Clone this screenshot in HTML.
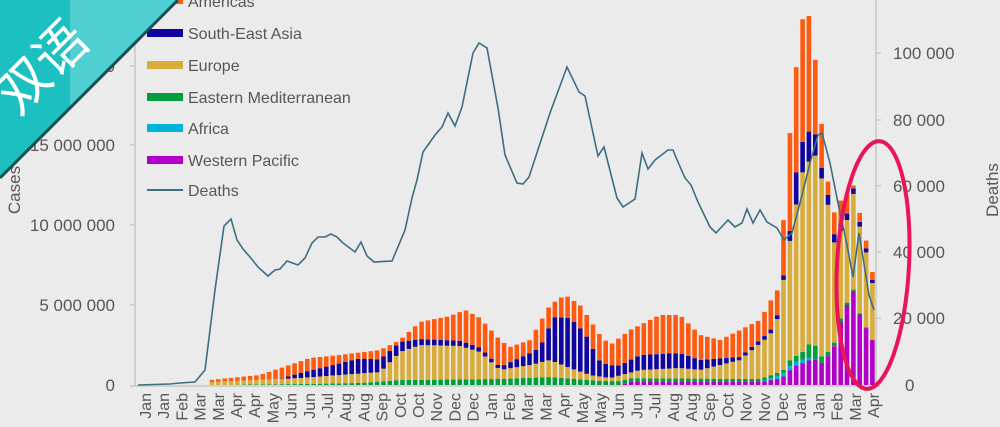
<!DOCTYPE html>
<html><head><meta charset="utf-8"><style>
html,body{margin:0;padding:0;background:#ebebeb;}
svg{display:block;font-family:"Liberation Sans","Noto Sans CJK SC",sans-serif;}
</style></head><body>
<svg id="s" width="1000" height="427" viewBox="0 0 1000 427" xmlns="http://www.w3.org/2000/svg">
<rect width="1000" height="427" fill="#ebebeb"/>
<g id="bars"></g>
<g id="axes" stroke="#c8c8c8" stroke-width="1.5">
<line x1="135" y1="0" x2="135" y2="386"/>
<line x1="876" y1="0" x2="876" y2="386"/>
<line x1="130" y1="386" x2="880" y2="386"/>
<line x1="130" y1="305" x2="135" y2="305"/><line x1="130" y1="225" x2="135" y2="225"/>
<line x1="130" y1="145" x2="135" y2="145"/><line x1="130" y1="66" x2="135" y2="66"/>
<line x1="876" y1="318" x2="881" y2="318"/><line x1="876" y1="252" x2="881" y2="252"/>
<line x1="876" y1="186" x2="881" y2="186"/><line x1="876" y1="120" x2="881" y2="120"/>
<line x1="876" y1="53" x2="881" y2="53"/>
</g>
<g fill="#5b5555" font-size="17" text-anchor="end">
<text x="115" y="391">0</text>
<text x="115" y="311">5 000 000</text>
<text x="115" y="231">10 000 000</text>
<text x="115" y="151">15 000 000</text>
<text x="115" y="72">20 000 000</text>
</g>
<g fill="#5b5555" font-size="17">
<text x="905" y="391">0</text>
<text x="893" y="324">20 000</text>
<text x="893" y="258">40 000</text>
<text x="893" y="192">60 000</text>
<text x="893" y="126">80 000</text>
<text x="893" y="59">100 000</text>
<text transform="translate(998,190) rotate(-90)" text-anchor="middle">Deaths</text>
<text transform="translate(20,190) rotate(-90)" text-anchor="middle">Cases</text>
</g>
<g id="months" fill="#5b5555" font-size="16"></g>
<polyline id="deaths" fill="none" stroke="#3e6e82" stroke-width="1.6"/>
<ellipse cx="873" cy="265" rx="36" ry="124" fill="none" stroke="#ea1556" stroke-width="4" transform="rotate(3 873 265)"/>
<g font-size="16" fill="#5b5555">
<rect x="147" y="-4" width="36" height="8" fill="#ff5a0f"/><text x="188" y="7">Americas</text>
<rect x="147" y="29" width="36" height="8" fill="#10069f"/><text x="188" y="39">South-East Asia</text>
<rect x="147" y="61" width="36" height="8" fill="#d9ad3c"/><text x="188" y="71">Europe</text>
<rect x="147" y="93" width="36" height="8" fill="#009e3d"/><text x="188" y="103">Eastern Mediterranean</text>
<rect x="147" y="124" width="36" height="8" fill="#00b3d9"/><text x="188" y="134">Africa</text>
<rect x="147" y="156" width="36" height="8" fill="#b300c8"/><text x="188" y="166">Western Pacific</text>
<line x1="147" y1="190" x2="183" y2="190" stroke="#3e6e82" stroke-width="2"/><text x="188" y="196">Deaths</text>
</g>
<polygon points="0,0 178,0 0,178" fill="#1cc0c0"/>
<polygon points="70,0 178,0 70,108" fill="#4fcfcf"/>
<line x1="178" y1="0" x2="0" y2="178" stroke="#164f5a" stroke-width="3"/>
<text transform="translate(55,80) rotate(-45)" font-size="52" fill="#ffffff" text-anchor="middle" font-family="'Noto Sans CJK SC',sans-serif">双语</text>
</svg>
<script>
function interp(pts,x){if(x<=pts[0][0])return pts[0][1];for(let i=1;i<pts.length;i++){if(x<=pts[i][0]){const a=pts[i-1],b=pts[i];return a[1]+(b[1]-a[1])*(x-a[0])/(b[0]-a[0]);}}return pts[pts.length-1][1];}
const top_=[[205,386],[210,380],[260,375],[310,358],[340,355],[380,350],[400,340],[420,322],[450,316],[465,310],[480,318],[500,340],[510,347],[530,340],[550,305],[565,295],[580,305],[600,335],[610,345],[630,330],[660,315],[680,315],[700,335],[720,340],[740,330],[760,320],[771,300],[777,292],[783,227],[790,131],[797,59],[803,16],[810,16],[816,66],[822,128],[828,182],[834,213],[841,200],[847,193],[853,184],[859,210],[865,235],[872,272]];
const eu=[[205,386],[210,382],[300,378],[380,372],[400,352],[420,345],[460,346],[480,352],[500,370],[530,365],[550,360],[570,368],[590,375],[610,378],[640,370],[680,368],[700,370],[740,360],[770,335],[777,320],[783,283],[790,240],[797,200],[803,170],[810,160],[816,155],[822,180],[828,205],[834,243],[841,230],[847,220],[853,192],[859,224],[865,247],[872,283]];
const bl=[[205,0],[280,0],[300,5],[360,15],[400,10],[420,6],[470,5],[500,3],[540,15],[555,45],[570,50],[585,40],[600,15],[620,10],[640,15],[680,15],[700,10],[740,3],[783,4],[790,10],[797,35],[803,30],[810,30],[816,20],[822,10],[829,10],[835,8],[873,3]];
const wp=[[205,0],[620,0],[630,3],[760,3],[777,6],[783,8],[790,15],[797,20],[803,22],[810,25],[816,25],[822,22],[829,30],[835,40],[841,65],[847,80],[853,95],[859,72],[865,59],[872,45]];
const af=[[205,0],[760,0],[777,3],[790,4],[810,3],[816,0],[873,0]];
const gr=[[205,0],[300,1],[360,2],[400,5],[500,6],[550,8],[600,4],[760,3],[783,3],[790,6],[797,6],[803,8],[810,14],[816,14],[822,6],[829,4],[873,0]];
let h='';
for(let x=148.5;x<=876;x+=6.35){
 const T=interp(top_,x);if(T>=385)continue;
 const E=interp(eu,x),B=interp(bl,x),W=interp(wp,x),G=interp(gr,x),A=interp(af,x);
 const base=385,w=4.6,xx=x-2.3;
 let y=base;
 const seg=(hh,c)=>{if(hh<=0.3)return;h+=`<rect x="${xx.toFixed(1)}" y="${(y-hh).toFixed(1)}" width="${w}" height="${hh.toFixed(1)}" fill="${c}"/>`;y-=hh;};
 seg(W,'#b300c8');seg(A,'#00b3d9');seg(G,'#009e3d');
 seg(Math.max(0,y-E),'#d9ad3c');
 seg(Math.min(B,Math.max(0,y-T)),'#10069f');
 seg(Math.max(0,y-T),'#ff5a0f');
}
document.getElementById('bars').innerHTML=h;
const d=[[138,385],[170,384],[180,383],[195,382],[205,370],[215,290],[224,226],[231,219],[237,240],[243,249],[250,257],[258,267],[268,276],[275,270],[280,269],[287,261],[298,265],[305,258],[312,243],[318,237],[325,237],[331,234],[337,237],[343,243],[355,252],[361,242],[367,256],[374,262],[392,261],[405,230],[412,198],[417,180],[423,152],[435,135],[442,127],[448,113],[455,126],[462,107],[473,53],[479,43],[487,48],[498,108],[505,155],[517,183],[523,184],[529,177],[550,113],[567,67],[579,92],[585,96],[598,156],[604,147],[617,198],[623,207],[635,199],[642,153],[648,169],[655,160],[668,150],[673,150],[678,162],[685,178],[691,185],[698,202],[710,227],[716,233],[728,220],[735,227],[742,223],[747,209],[753,223],[760,210],[767,222],[777,228],[784,240],[792,233],[800,203],[810,163],[818,135],[822,133],[830,163],[838,203],[847,245],[853,277],[859,233],[869,295],[874,310]];
document.getElementById('deaths').setAttribute('points',d.map(p=>p.join(',')).join(' '));
const m="Jan Jan Feb Mar Mar Apr Apr May Jun Jun -Jul Aug Aug Sep Oct Oct Nov Dec Dec Jan Feb Mar Mar Apr May May Jun Jun -Jul Aug Aug Sep Oct Nov Nov Dec Jan Jan Feb Mar Apr".split(' ');
let mh='';m.forEach((t,i)=>{const x=145+i*(728/(m.length-1))+6;mh+=`<text transform="translate(${x.toFixed(1)},393) rotate(-90)" text-anchor="end">${t}</text>`;});
document.getElementById('months').innerHTML=mh;
</script>
</body></html>
